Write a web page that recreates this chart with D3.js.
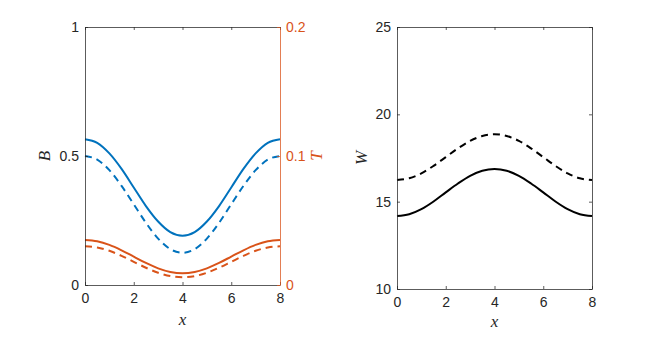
<!DOCTYPE html>
<html>
<head>
<meta charset="utf-8">
<script src="https://cdn.jsdelivr.net/npm/d3@7"></script>
<style>
body { margin: 0; background: #fff; }
text { font-family: "Liberation Sans", Arial, sans-serif; }
.lab { font-family: "Liberation Serif", "DejaVu Serif", serif; font-style: italic; }
</style>
</head>
<body>
<div id="chart"></div>
<script>
const width = 654
const height = 352

// sample positions along x
const xs = [0, 0.5, 1, 1.5, 2, 2.5, 3, 3.5, 4, 4.5, 5, 5.5, 6, 6.5, 7, 7.5, 8]

// left panel, left axis (B)
const bSolid = [0.565, 0.551, 0.510, 0.450, 0.378, 0.306, 0.246, 0.205, 0.191, 0.205, 0.246, 0.306, 0.378, 0.450, 0.510, 0.551, 0.565]
const bDashed = [0.500, 0.486, 0.445, 0.384, 0.313, 0.241, 0.180, 0.139, 0.125, 0.139, 0.180, 0.241, 0.313, 0.384, 0.445, 0.486, 0.500]
// left panel, right axis (T)
const tSolid = [0.0349, 0.0339, 0.0311, 0.0269, 0.0220, 0.0171, 0.0129, 0.0101, 0.0091, 0.0101, 0.0129, 0.0171, 0.0220, 0.0269, 0.0311, 0.0339, 0.0349]
const tDashed = [0.0300, 0.0291, 0.0265, 0.0226, 0.0180, 0.0134, 0.0095, 0.0069, 0.0060, 0.0069, 0.0095, 0.0134, 0.0180, 0.0226, 0.0265, 0.0291, 0.0300]
// right panel (W)
const wSolid = [14.18, 14.28, 14.57, 15.01, 15.53, 16.04, 16.48, 16.77, 16.87, 16.77, 16.48, 16.04, 15.53, 15.01, 14.57, 14.28, 14.18]
const wDashed = [16.24, 16.34, 16.62, 17.05, 17.55, 18.05, 18.48, 18.76, 18.86, 18.76, 18.48, 18.05, 17.55, 17.05, 16.62, 16.34, 16.24]

const xTicks = [0, 2, 4, 6, 8]
const bTicks = [0, 0.5, 1]
const tTicks = [0, 0.1, 0.2]
const wTicks = [10, 15, 20, 25]

const blue = "#0072BD"
const orange = "#D95319"
const axisCol = "#262626"

const svg = d3.select("#chart").append("svg").attr("width", width).attr("height", height)

function styleAxis(g, col) {
    g.select(".domain").attr("stroke", col).attr("stroke-opacity", 0.75)
    g.selectAll(".tick line").attr("stroke", col).attr("stroke-opacity", 0.75)
    g.selectAll(".tick text").attr("fill", col).attr("font-size", 14)
        .attr("font-family", "'Liberation Sans', Arial, sans-serif")
}

function drawLine(g, x, y, vals, col, dashed) {
    const line = d3.line().x((d, i) => x(xs[i])).y(d => y(d)).curve(d3.curveMonotoneX)
    g.append("path").datum(vals).attr("d", line)
        .attr("fill", "none").attr("stroke", col).attr("stroke-width", 2)
        .attr("stroke-dasharray", dashed ? "7,5" : null)
}

// ---- left panel
const L = {left: 85, right: 280, top: 27, bottom: 285}
const x1 = d3.scaleLinear().domain([0, 8]).range([L.left, L.right])
const yB = d3.scaleLinear().domain([0, 1]).range([L.bottom, L.top])
const yT = d3.scaleLinear().domain([0, 0.2]).range([L.bottom, L.top])

const p1 = svg.append("g")
drawLine(p1, x1, yB, bSolid, blue, false)
drawLine(p1, x1, yB, bDashed, blue, true)
drawLine(p1, x1, yT, tSolid, orange, false)
drawLine(p1, x1, yT, tDashed, orange, true)

p1.append("g").attr("transform", `translate(0,${L.bottom})`)
    .call(d3.axisBottom(x1).tickValues(xTicks).tickSize(-3).tickPadding(8).tickSizeOuter(0))
    .call(g => styleAxis(g, axisCol))
p1.append("g").attr("transform", `translate(0,${L.top})`)
    .call(d3.axisTop(x1).tickValues(xTicks).tickSize(-3).tickSizeOuter(0).tickFormat(""))
    .call(g => styleAxis(g, axisCol))
p1.append("g").attr("transform", `translate(${L.left},0)`)
    .call(d3.axisLeft(yB).tickValues(bTicks).tickSize(-3).tickPadding(6).tickSizeOuter(0).tickFormat(d3.format("")))
    .call(g => styleAxis(g, axisCol))
p1.append("g").attr("transform", `translate(${L.right},0)`)
    .call(d3.axisRight(yT).tickValues(tTicks).tickSize(-3).tickPadding(6).tickSizeOuter(0).tickFormat(d3.format("")))
    .call(g => styleAxis(g, orange))

p1.append("text").attr("class", "lab").attr("transform", `translate(50,${yB(0.5)}) rotate(-90)`)
    .attr("text-anchor", "middle").attr("font-size", 17).attr("fill", axisCol).text("B")
p1.append("text").attr("class", "lab").attr("transform", `translate(322,${yT(0.1)}) rotate(-90)`)
    .attr("text-anchor", "middle").attr("font-size", 17).attr("fill", orange).text("T")
p1.append("text").attr("class", "lab").attr("x", x1(4)).attr("y", 325)
    .attr("text-anchor", "middle").attr("font-size", 17).attr("fill", axisCol).text("x")

// ---- right panel
const R = {left: 397, right: 592, top: 27, bottom: 289}
const x2 = d3.scaleLinear().domain([0, 8]).range([R.left, R.right])
const yW = d3.scaleLinear().domain([10, 25]).range([R.bottom, R.top])

const p2 = svg.append("g")
drawLine(p2, x2, yW, wSolid, "#000", false)
drawLine(p2, x2, yW, wDashed, "#000", true)

p2.append("g").attr("transform", `translate(0,${R.bottom})`)
    .call(d3.axisBottom(x2).tickValues(xTicks).tickSize(-3).tickPadding(8).tickSizeOuter(0))
    .call(g => styleAxis(g, axisCol))
p2.append("g").attr("transform", `translate(0,${R.top})`)
    .call(d3.axisTop(x2).tickValues(xTicks).tickSize(-3).tickSizeOuter(0).tickFormat(""))
    .call(g => styleAxis(g, axisCol))
p2.append("g").attr("transform", `translate(${R.left},0)`)
    .call(d3.axisLeft(yW).tickValues(wTicks).tickSize(-3).tickPadding(6).tickSizeOuter(0))
    .call(g => styleAxis(g, axisCol))
p2.append("g").attr("transform", `translate(${R.right},0)`)
    .call(d3.axisRight(yW).tickValues(wTicks).tickSize(-3).tickSizeOuter(0).tickFormat(""))
    .call(g => styleAxis(g, axisCol))

p2.append("text").attr("class", "lab").attr("transform", `translate(367,${yW(17.5)}) rotate(-90)`)
    .attr("text-anchor", "middle").attr("font-size", 17).attr("fill", axisCol).text("W")
p2.append("text").attr("class", "lab").attr("x", x2(4)).attr("y", 327)
    .attr("text-anchor", "middle").attr("font-size", 17).attr("fill", axisCol).text("x")
</script>
</body>
</html>
